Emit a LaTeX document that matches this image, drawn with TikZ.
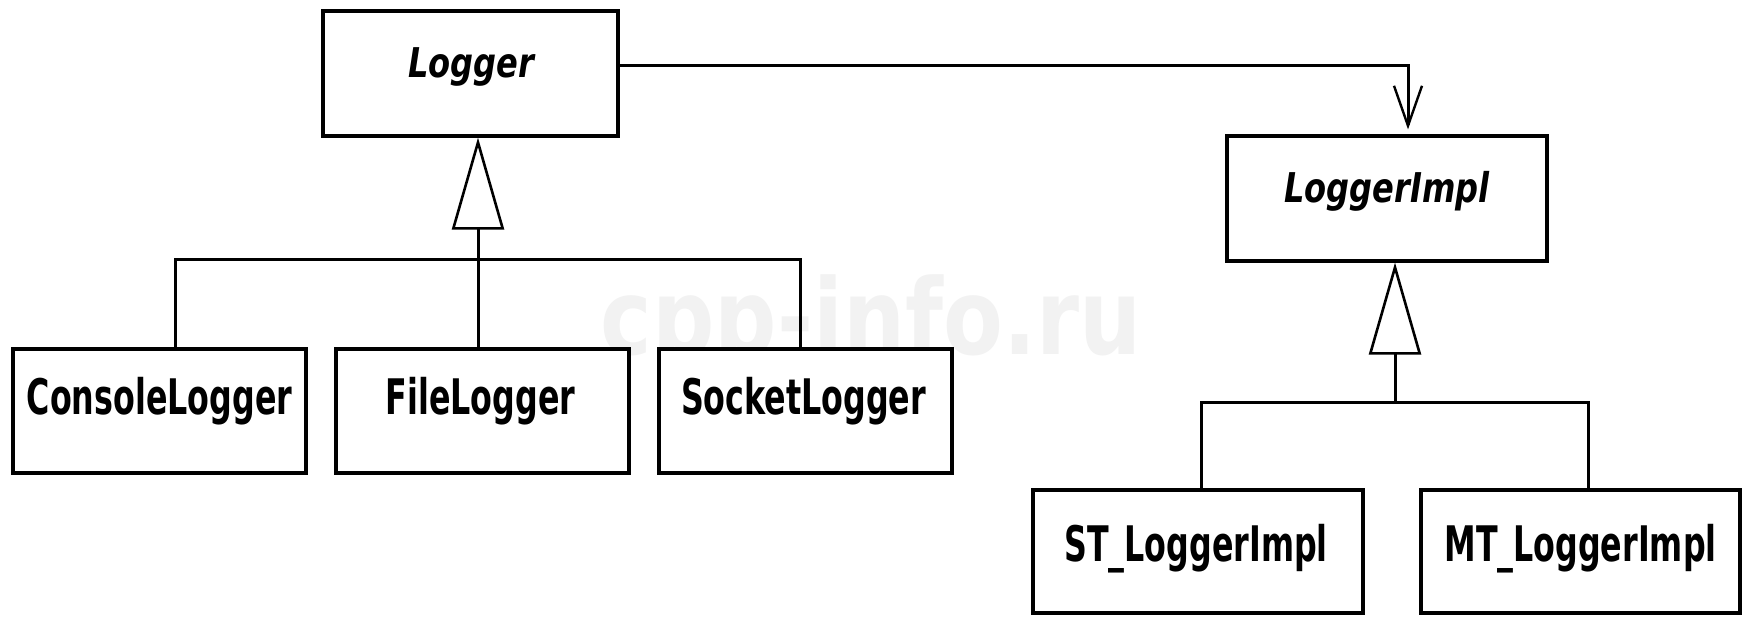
\documentclass[tikz,border=0pt]{standalone}
\usepackage{fontspec}
\usetikzlibrary{arrows.meta,calc}
\newfontfamily\clsfont{DejaVu Sans Condensed Bold}[FakeStretch=0.72]
\newfontfamily\absfont{DejaVu Sans Condensed Bold Oblique}[FakeStretch=0.87]
\newfontfamily\wmfont{DejaVu Sans Bold}[FakeStretch=0.83]
\begin{document}
\begin{tikzpicture}[x=1pt,y=-1pt,
  box/.style={draw, line width=3.2pt, fill=white, inner sep=0pt},
  conc/.style={font=\clsfont\fontsize{49}{49}\selectfont, anchor=base, inner sep=0pt},
  abst/.style={font=\absfont\fontsize{41}{41}\selectfont, anchor=base, inner sep=0pt},
  wm/.style={font=\wmfont\fontsize{105}{105}\selectfont, text=black!5, anchor=base},
  link/.style={line width=3pt},
  gen/.style={link, -{Triangle[length=92pt,width=52pt,fill=white,line width=2.6pt]}},
  assoc/.style={link, -{Straight Barb[length=40pt,width=28pt,line width=2.4pt]}}]
\fill[white] (0,0) rectangle (1746,616);
\useasboundingbox (0,0) rectangle (1746,616);
\node[wm] (wm) at (871,354) {cpp-info.ru};
% boxes
\node[box, minimum width=295pt, minimum height=125pt] (logger) at (470.5,73.5) {};
\node[box, minimum width=320pt, minimum height=125pt] (impl) at (1387,198.5) {};
\node[box, minimum width=293pt, minimum height=124pt] (console) at (159.5,411) {};
\node[box, minimum width=293pt, minimum height=124pt] (file) at (482.5,411) {};
\node[box, minimum width=293pt, minimum height=124pt] (socket) at (805.5,411) {};
\node[box, minimum width=330pt, minimum height=123pt] (st) at (1198,551.5) {};
\node[box, minimum width=319pt, minimum height=123pt] (mt) at (1580.5,551.5) {};
% class names (baseline positions)
\node[abst] (loggerT) at ($(logger.center)+(1,4)$) {Logger};
\node[abst] (implT) at ($(impl.center)+(0,3.5)$) {LoggerImpl};
\node[conc] (consoleT) at ($(console.center)+(0,3)$) {ConsoleLogger};
\node[conc] (fileT) at ($(file.center)+(-2,3)$) {FileLogger};
\node[conc] (socketT) at ($(socket.center)+(-2,3)$) {SocketLogger};
\node[conc] (stT) at ($(st.center)+(-2,10)$) {ST\_LoggerImpl};
\node[conc] (mtT) at ($(mt.center)+(0,10)$) {MT\_LoggerImpl};
% junctions
\coordinate (j1) at (478,259);
\coordinate (c1) at (175,0);
\coordinate (c3) at (800,0);
\coordinate (j2) at (1395,402);
\coordinate (d1) at (1201,0);
\coordinate (d2) at (1588,0);
\coordinate (a1) at (1408,0);
% left hierarchy
\draw[gen] (j1) -- (logger.south -| j1);
\draw[link] (console.north -| c1) |- (j1) -| (socket.north -| c3);
\draw[link] (file.north -| j1) -- (j1);
% right hierarchy
\draw[gen] (j2) -- (impl.south -| j2);
\draw[link] (st.north -| d1) |- (j2) -| (mt.north -| d2);
% association
\draw[assoc, shorten >=5pt] ($(logger.east)+(0,-8.5)$) -| (impl.north -| a1);
\end{tikzpicture}
\end{document}
